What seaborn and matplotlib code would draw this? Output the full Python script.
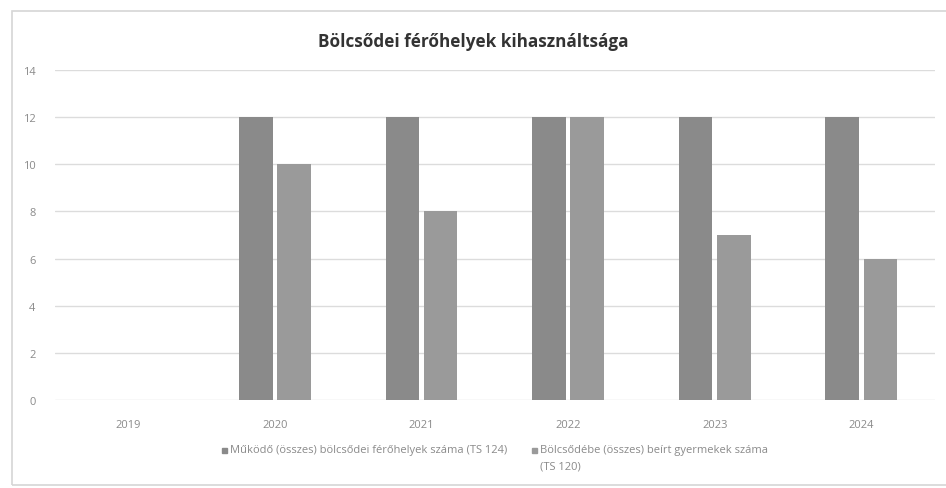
import matplotlib
matplotlib.use("Agg")
import matplotlib.pyplot as plt
from matplotlib.patches import Rectangle
import seaborn as sns
import pandas as pd

# ── data ────────────────────────────────────────────────────────────────
years = ["2019", "2020", "2021", "2022", "2023", "2024"]
ferohelyek = [0, 12, 12, 12, 12, 12]
beirt = [0, 10, 8, 12, 7, 6]
series_names = [
    "Működő (összes) bölcsődei férőhelyek száma (TS 124)",
    "Bölcsődébe (összes) beírt gyermekek száma\n(TS 120)",
]
title = "Bölcsődei férőhelyek kihasználtsága"
yticks = [0, 2, 4, 6, 8, 10, 12, 14]

df = pd.DataFrame({
    "year": years * 2,
    "value": ferohelyek + beirt,
    "series": [series_names[0]] * len(years) + [series_names[1]] * len(years),
})

sns.set_style("white")
plt.rcParams["font.family"] = ["Open Sans", "DejaVu Sans"]

TXT = "#8a8a8a"
GRID = "#dcdcdc"
COLORS = ["#8a8a8a", "#9a9a9a"]

fig = plt.figure(figsize=(9.46, 4.89), dpi=100)
fig.patch.set_facecolor("white")
ax = fig.add_axes([0.058, 0.180, 0.930, 0.675])

sns.barplot(data=df, x="year", y="value", hue="series", palette=COLORS,
            width=0.52, gap=0.12, saturation=1, linewidth=0,
            ax=ax, legend=False)

ax.set_ylim(0, 14)
ax.set_yticks(yticks)
ax.set_xlim(-0.5, len(years) - 0.5)
ax.grid(axis="y", color=GRID, lw=1)
ax.set_axisbelow(True)
for s in ax.spines.values():
    s.set_visible(False)
ax.set_xlabel("")
ax.set_ylabel("")
ax.tick_params(axis="both", length=0, colors=TXT, labelsize=8)
ax.tick_params(axis="y", pad=14)
ax.tick_params(axis="x", pad=14)

# legend below the plot: small square + label, first lines aligned
legend_x = [222 / 946, 532 / 946]
legend_y = 1 - 451 / 489
for x0, name, col in zip(legend_x, series_names, COLORS):
    fig.patches.append(Rectangle((x0, legend_y - 2.5 / 489), 5 / 946, 5 / 489,
                                 transform=fig.transFigure, color=col))
    fig.text(x0 + 8 / 946, legend_y + 6 / 489, name, ha="left", va="top",
             fontsize=8, color=TXT, linespacing=1.75)

fig.text(0.5, 0.914, title, ha="center", va="center",
         fontsize=12.3, fontweight="bold", color="#333333")

# outer chart frame
fig.patches.append(Rectangle((12 / 946, 3 / 489), 1.1, 474 / 489,
                             transform=fig.transFigure, fill=False,
                             edgecolor="#d6d6d6", lw=1.2))

fig.savefig("out.png", dpi=100, facecolor="white")
